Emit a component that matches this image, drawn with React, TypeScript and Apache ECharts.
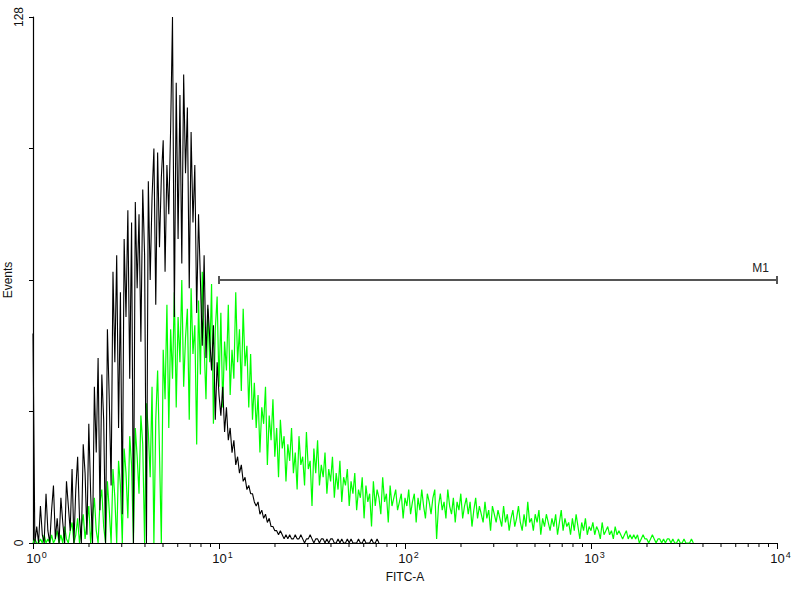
import { useEffect, useRef } from 'react';
import * as echarts from 'echarts';

// histogram channels: 100 per decade on the FITC-A log scale
const CHANNELS_PER_DECADE = 100;

// control (black) histogram, events per channel
const blackCounts = [
  51, 0, 4, 0, 9, 2, 0, 12, 3, 0,
  8, 14, 1, 6, 0, 11, 5, 0, 15, 9,
  3, 18, 0, 13, 21, 6, 0, 24, 17, 2,
  29, 12, 0, 38, 22, 45, 8, 41, 30, 0,
  52, 35, 14, 66, 44, 70, 28, 61, 7, 74,
  55, 81, 40, 78, 0, 83, 62, 80, 49, 86,
  70, 0, 88, 64, 84, 96, 58, 95, 72, 89,
  98, 66, 92, 80, 101, 128, 55, 112, 74, 109,
  68, 114, 90, 106, 62, 100, 78, 92, 56, 80,
  64, 48, 70, 45, 58, 50, 42, 53, 30, 44,
  36, 31, 38, 27, 33, 25, 28, 22, 25, 19,
  21, 17, 19, 15, 16, 13, 14, 12, 12, 10,
  9, 10, 7, 8, 6, 7, 5, 6, 4, 4,
  3, 3, 2, 3, 2, 1, 2, 1, 2, 1,
  1, 2, 1, 1, 2, 1, 0, 1, 1, 2,
  1, 0, 1, 1, 0, 1, 1, 0, 1, 0,
  1, 1, 0, 0, 1, 0, 1, 0, 0, 1,
  0, 1, 0, 0, 0, 1, 0, 0, 1, 0,
  0, 0, 1, 0, 0, 1, 0,
];

// stained (green) histogram, events per channel
const greenCounts = [
  0, 1, 0, 0, 1, 0, 2, 0, 1, 0,
  2, 0, 1, 3, 0, 2, 0, 4, 1, 0,
  3, 5, 0, 2, 6, 0, 4, 7, 1, 5,
  9, 0, 6, 11, 3, 0, 10, 13, 4, 0,
  15, 8, 0, 18, 11, 0, 20, 14, 0, 23,
  17, 6, 26, 19, 0, 28, 21, 12, 31, 24,
  0, 34, 27, 16, 38, 0, 30, 42, 22, 0,
  47, 35, 58, 28, 52, 40, 61, 33, 55, 44,
  64, 38, 50, 57, 30, 62, 46, 53, 24, 59,
  41, 66, 48, 35, 57, 44, 63, 29, 52, 60,
  38, 56, 33, 49, 42, 58, 36, 47, 40, 61,
  44, 52, 37, 57, 43, 48, 33, 46, 30, 39,
  28, 36, 22, 33, 29, 38, 19, 31, 25, 35,
  21, 28, 16, 30, 23, 26, 15, 24, 20, 28,
  17, 22, 13, 26, 19, 21, 14, 27, 18, 20,
  9, 23, 17, 25, 14, 19, 16, 22, 12, 18,
  15, 21, 11, 17, 13, 20, 10, 16, 14, 18,
  9, 15, 12, 17, 8, 13, 11, 16, 6, 14,
  10, 12, 4, 15, 9, 13, 11, 7, 16, 10,
  12, 5, 14, 9, 11, 13, 8, 10, 12, 6,
  11, 9, 13, 7, 10, 12, 5, 11, 8, 13,
  9, 6, 12, 10, 7, 11, 13, 1, 9, 12,
  8, 10, 6, 13, 9, 7, 11, 5, 10, 8,
  12, 6, 9, 11, 7, 10, 4, 8, 11, 6,
  9, 7, 5, 10, 6, 8, 3, 9, 7, 5,
  8, 6, 4, 9, 5, 7, 3, 6, 8, 4,
  6, 9, 5, 3, 7, 4, 10, 5, 6, 3,
  7, 5, 8, 2, 6, 4, 7, 5, 3, 6,
  4, 7, 2, 5, 8, 3, 6, 4, 5, 2,
  6, 3, 7, 4, 1, 5, 3, 6, 2, 4,
  3, 5, 2, 4, 3, 1, 5, 2, 3, 4,
  2, 3, 1, 4, 2, 3, 2, 1, 2, 3,
  1, 2, 1, 2, 1, 2, 0, 1, 2, 1,
  1, 0, 1, 2, 1, 0, 1, 1, 0, 1,
  0, 1, 1, 0, 1, 0, 0, 1, 0, 0,
  1, 0, 0, 0, 1, 0,
];

const decadeExponents = ['0', '1', '2', '3', '4'];
const minorMultipliers = [2, 3, 4, 5, 6, 7, 8, 9];
const yLabelValues = [0, 128];

// marker gate M1 (FITC-A range) and the height it is drawn at
const m1Range = [10, 10000];
const m1Level = 64;

const toPoints = (counts: number[]) =>
  counts.map((c, ch) => [ch / CHANNELS_PER_DECADE, c]);

export default function App() {
  const chartRef = useRef<HTMLDivElement>(null);

  useEffect(() => {
    document.body.style.margin = '0';
    if (!chartRef.current) return;
    const chart = echarts.init(chartRef.current, null, { renderer: 'svg' });
    const font = '"Liberation Sans", Arial, sans-serif';

    const minorTicks: number[][] = [];
    for (let d = 0; d < decadeExponents.length - 1; d++) {
      minorMultipliers.forEach((m) => minorTicks.push([d + Math.log10(m), 0]));
    }

    const option: any = {
      animation: false,
      grid: { left: 33, right: 23, top: 17, bottom: 57, containLabel: false, outerBoundsMode: 'none' },
      // y axis title, placed by hand so it is not pushed off the page
      graphic: [
        {
          type: 'text',
          x: 8,
          y: 280,
          rotation: Math.PI / 2,
          style: {
            text: 'Events',
            fill: '#111',
            font: `12px ${font}`,
            align: 'center',
            verticalAlign: 'middle',
          },
        },
      ],
      xAxis: {
        type: 'value',
        min: 0,
        max: 4,
        interval: 1,
        name: 'FITC-A',
        nameLocation: 'middle',
        nameGap: 28,
        nameTextStyle: { fontFamily: font, fontSize: 12, color: '#111' },
        axisLine: { show: true, lineStyle: { color: '#000', width: 1.2 } },
        axisTick: { show: true, length: 6, lineStyle: { color: '#000' } },
        splitLine: { show: false },
        axisLabel: {
          margin: 7,
          padding: [0, 0, 0, 7],
          formatter: (v: number) => `{b|10}{s|${decadeExponents[Math.round(v)]}}`,
          rich: {
            b: { fontFamily: font, fontSize: 13, color: '#111' },
            s: { fontFamily: font, fontSize: 9, color: '#111', padding: [0, 0, 7, 1] },
          },
        },
      },
      yAxis: {
        type: 'value',
        min: 0,
        max: 128,
        interval: 32,
        axisLine: { show: true, lineStyle: { color: '#000', width: 1.2 } },
        axisTick: { show: true, length: 4, lineStyle: { color: '#000' } },
        splitLine: { show: false },
        axisLabel: {
          rotate: 90,
          margin: 8,
          fontFamily: font,
          fontSize: 12,
          color: '#111',
          formatter: (v: number) => (yLabelValues.includes(v) ? String(v) : ''),
        },
      },
      series: [
        {
          name: 'stained',
          type: 'line',
          data: toPoints(greenCounts),
          symbol: 'none',
          silent: true,
          lineStyle: { color: '#00ff00', width: 1.2 },
          itemStyle: { color: '#00ff00' },
          z: 2,
        },
        {
          name: 'control',
          type: 'line',
          data: toPoints(blackCounts),
          symbol: 'none',
          silent: true,
          lineStyle: { color: '#000', width: 1.1 },
          itemStyle: { color: '#000' },
          z: 3,
        },
        {
          // minor log ticks (2..9 in each decade)
          name: 'minorTicks',
          type: 'custom',
          silent: true,
          clip: false,
          z: 5,
          data: minorTicks,
          renderItem: (_params: any, api: any) => {
            const p = api.coord([api.value(0), 0]);
            return {
              type: 'line',
              shape: { x1: p[0], y1: p[1], x2: p[0], y2: p[1] + 4 },
              style: { stroke: '#000', lineWidth: 1 },
            };
          },
        },
        {
          name: 'M1',
          type: 'custom',
          silent: true,
          clip: false,
          z: 6,
          data: [[Math.log10(m1Range[0]), Math.log10(m1Range[1]), m1Level]],
          renderItem: (_params: any, api: any) => {
            const a = api.coord([api.value(0), api.value(2)]);
            const b = api.coord([api.value(1), api.value(2)]);
            const stroke = { stroke: '#555', lineWidth: 2 };
            return {
              type: 'group',
              children: [
                { type: 'line', shape: { x1: a[0], y1: a[1], x2: b[0], y2: b[1] }, style: stroke },
                { type: 'line', shape: { x1: a[0], y1: a[1] - 4, x2: a[0], y2: a[1] + 4 }, style: stroke },
                { type: 'line', shape: { x1: b[0], y1: b[1] - 4, x2: b[0], y2: b[1] + 4 }, style: stroke },
                {
                  type: 'text',
                  x: b[0] - 8,
                  y: b[1] - 6,
                  style: {
                    text: 'M1',
                    fill: '#222',
                    font: `12px ${font}`,
                    align: 'right',
                    verticalAlign: 'bottom',
                  },
                },
              ],
            };
          },
        },
      ],
    };

    chart.setOption(option);

    return () => {
      chart.dispose();
    };
  }, []);

  return <div ref={chartRef} style={{ width: '800px', height: '600px' }}></div>;
}
